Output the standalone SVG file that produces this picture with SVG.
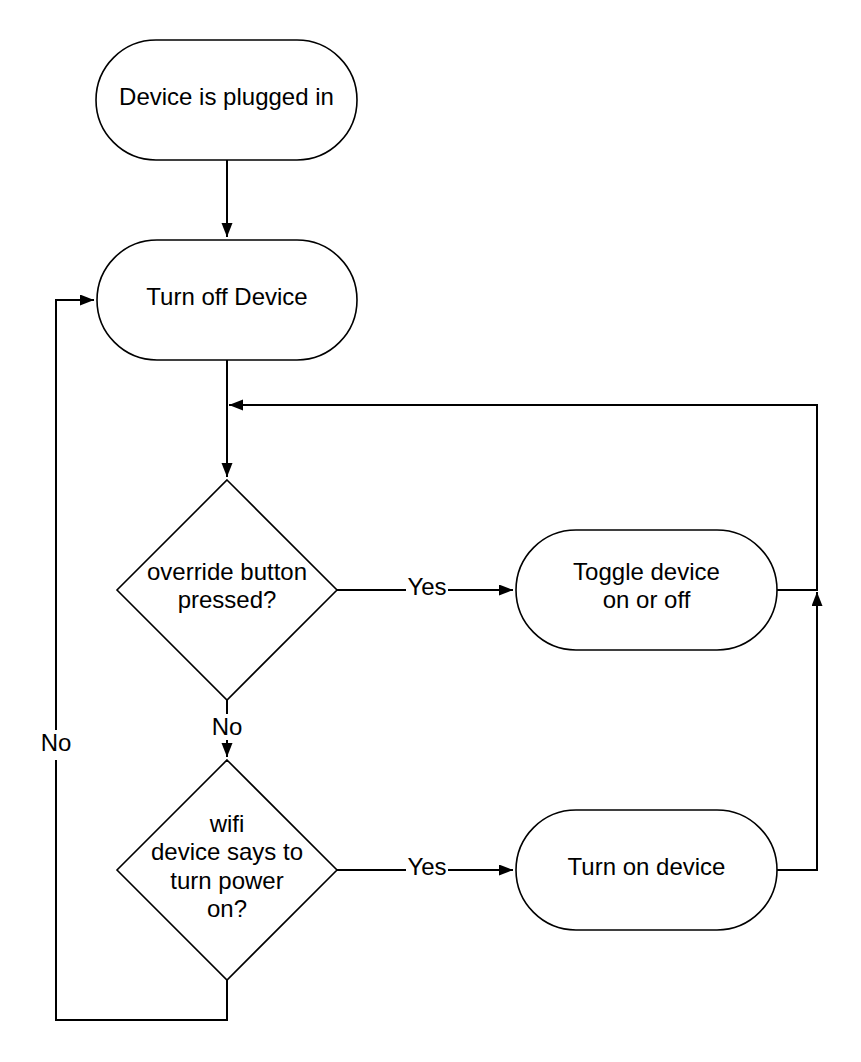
<svg xmlns="http://www.w3.org/2000/svg" width="861" height="1062" viewBox="0 0 861 1062">
<style>
.shape{fill:#ffffff;stroke:#000000;stroke-width:1.6}
.txt{font-family:"Liberation Sans",Arial,sans-serif;font-size:24px;fill:#000000;text-anchor:middle}
.conn{fill:none;stroke:#000000;stroke-width:2}
.lblbg{fill:#ffffff;stroke:none}
</style>
<defs>
<marker id="arr" markerUnits="userSpaceOnUse" markerWidth="15" markerHeight="12" refX="14" refY="5.5" orient="auto">
<path d="M0,0 L14,5.5 L0,11 Z" fill="#000000"/>
</marker>
</defs>
<rect width="861" height="1062" fill="#ffffff"/>
<g id="connectors">
<path class="conn" d="M227,160 L227,237" marker-end="url(#arr)"/>
<path class="conn" d="M227,360 L227,477" marker-end="url(#arr)"/>
<path class="conn" d="M777,590 L817,590 L817,405 L229,405" marker-end="url(#arr)"/>
<path class="conn" d="M337,590 L513,590" marker-end="url(#arr)"/>
<path class="conn" d="M227,700 L227,757" marker-end="url(#arr)"/>
<path class="conn" d="M337,870 L513,870" marker-end="url(#arr)"/>
<path class="conn" d="M777,870 L817,870 L817,592" marker-end="url(#arr)"/>
<path class="conn" d="M227,980 L227,1020 L56,1020 L56,300 L94,300" marker-end="url(#arr)"/>
<g id="label-yes1"><rect class="lblbg" x="406" y="576" width="42" height="26"/><text class="txt" x="427" y="595">Yes</text></g>
<g id="label-yes2"><rect class="lblbg" x="406" y="856" width="42" height="26"/><text class="txt" x="427" y="875">Yes</text></g>
<g id="label-no1"><rect class="lblbg" x="211" y="714" width="32" height="26"/><text class="txt" x="227" y="735">No</text></g>
<g id="label-no2"><rect class="lblbg" x="40" y="730" width="32" height="30"/><text class="txt" x="56" y="751">No</text></g>
</g>
<g id="node-plugged">
<rect class="shape" x="96" y="40" width="261" height="120" rx="60" ry="60"/>
<text class="txt" x="226.5" y="105">Device is plugged in</text>
</g>
<g id="node-turnoff">
<rect class="shape" x="97" y="240" width="260" height="120" rx="60" ry="60"/>
<text class="txt" x="227" y="305">Turn off Device</text>
</g>
<g id="node-override">
<polygon class="shape" points="227,480 337,590 227,700 117,590"/>
<text class="txt" x="227" y="580">override button</text>
<text class="txt" x="227" y="608">pressed?</text>
</g>
<g id="node-toggle">
<rect class="shape" x="516" y="530" width="261" height="120" rx="60" ry="60"/>
<text class="txt" x="646.5" y="580">Toggle device</text>
<text class="txt" x="646.5" y="608">on or off</text>
</g>
<g id="node-wifi">
<polygon class="shape" points="227,760 337,870 227,980 117,870"/>
<text class="txt" x="227" y="831.5">wifi</text>
<text class="txt" x="227" y="860">device says to</text>
<text class="txt" x="227" y="888.5">turn power</text>
<text class="txt" x="227" y="917">on?</text>
</g>
<g id="node-turnon">
<rect class="shape" x="516" y="810" width="261" height="120" rx="60" ry="60"/>
<text class="txt" x="646.5" y="875">Turn on device</text>
</g>
</svg>
